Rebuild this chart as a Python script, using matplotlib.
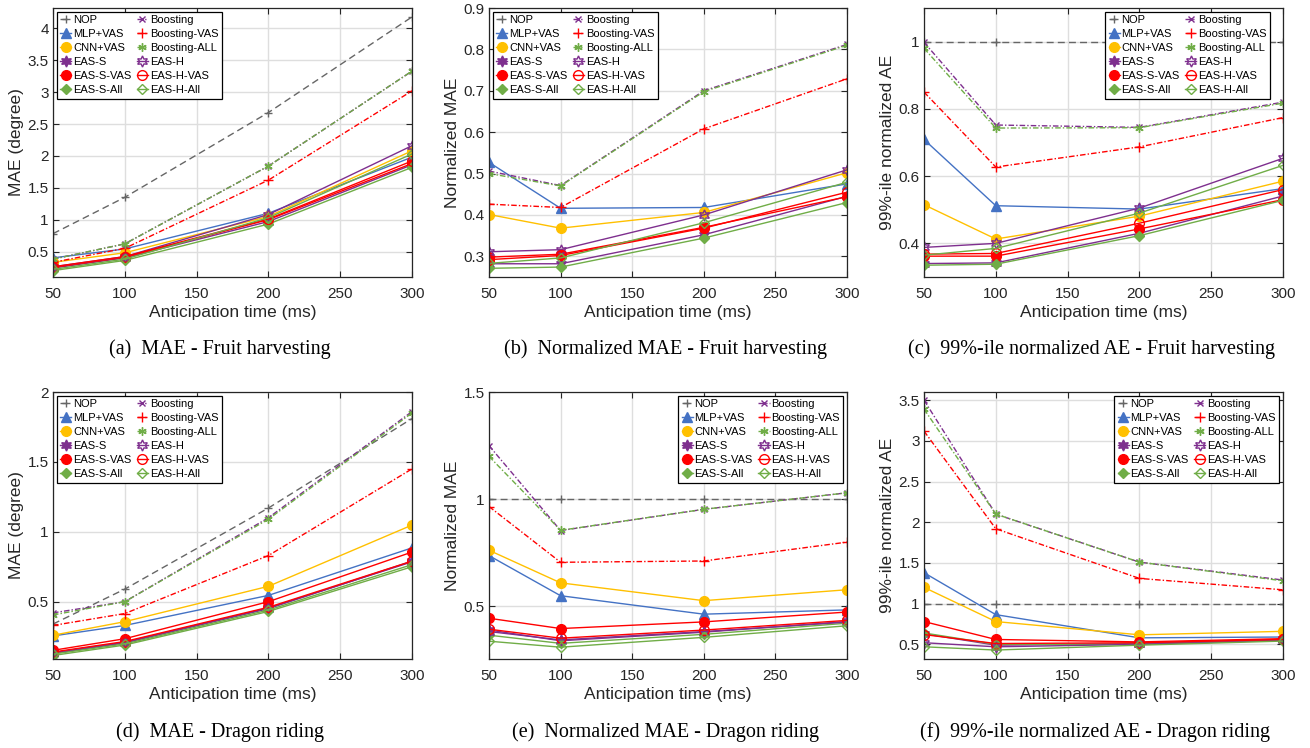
import matplotlib
matplotlib.use('Agg')
import matplotlib.pyplot as plt
from matplotlib.ticker import FuncFormatter

# anticipation times (ms)
tempos = [50, 100, 200, 300]

nomes = ['NOP', 'MLP+VAS', 'CNN+VAS', 'EAS-S', 'EAS-S-VAS', 'EAS-S-All',
         'Boosting', 'Boosting-VAS', 'Boosting-ALL', 'EAS-H', 'EAS-H-VAS', 'EAS-H-All']

# one row per method, same order as nomes
mae_fruit = [
    [0.78, 1.35, 2.68, 4.18],
    [0.40, 0.54, 1.10, 1.98],
    [0.33, 0.48, 1.05, 2.08],
    [0.24, 0.40, 0.97, 1.86],
    [0.25, 0.41, 1.00, 1.88],
    [0.20, 0.36, 0.93, 1.82],
    [0.38, 0.62, 1.84, 3.33],
    [0.33, 0.55, 1.62, 3.02],
    [0.38, 0.62, 1.84, 3.33],
    [0.26, 0.42, 1.08, 2.16],
    [0.26, 0.42, 1.01, 1.92],
    [0.22, 0.38, 1.03, 2.03],
]

nmae_fruit = [
    [1, 1, 1, 1],
    [0.527, 0.416, 0.418, 0.475],
    [0.401, 0.368, 0.406, 0.502],
    [0.282, 0.282, 0.352, 0.445],
    [0.298, 0.305, 0.370, 0.444],
    [0.271, 0.274, 0.344, 0.430],
    [0.506, 0.471, 0.700, 0.812],
    [0.426, 0.418, 0.608, 0.729],
    [0.500, 0.470, 0.698, 0.810],
    [0.311, 0.316, 0.400, 0.509],
    [0.292, 0.302, 0.368, 0.455],
    [0.283, 0.296, 0.381, 0.479],
]

ae99_fruit = [
    [1, 1, 1, 1],
    [0.709, 0.512, 0.502, 0.563],
    [0.515, 0.413, 0.481, 0.585],
    [0.340, 0.342, 0.430, 0.541],
    [0.362, 0.362, 0.443, 0.530],
    [0.335, 0.338, 0.423, 0.528],
    [0.998, 0.752, 0.745, 0.820],
    [0.850, 0.627, 0.687, 0.774],
    [0.980, 0.743, 0.744, 0.817],
    [0.388, 0.400, 0.505, 0.653],
    [0.368, 0.370, 0.460, 0.560],
    [0.365, 0.385, 0.490, 0.632],
]

mae_dragon = [
    [0.34, 0.59, 1.17, 1.81],
    [0.255, 0.33, 0.545, 0.885],
    [0.26, 0.357, 0.61, 1.048],
    [0.13, 0.205, 0.45, 0.79],
    [0.152, 0.235, 0.50, 0.855],
    [0.115, 0.19, 0.43, 0.75],
    [0.42, 0.50, 1.10, 1.86],
    [0.33, 0.415, 0.83, 1.45],
    [0.405, 0.50, 1.09, 1.85],
    [0.135, 0.21, 0.455, 0.785],
    [0.14, 0.215, 0.46, 0.79],
    [0.125, 0.198, 0.44, 0.765],
]

nmae_dragon = [
    [1, 1, 1, 1],
    [0.737, 0.55, 0.464, 0.484],
    [0.762, 0.61, 0.527, 0.578],
    [0.39, 0.34, 0.38, 0.43],
    [0.445, 0.397, 0.428, 0.474],
    [0.366, 0.328, 0.37, 0.422],
    [1.25, 0.854, 0.953, 1.03],
    [0.966, 0.706, 0.712, 0.80],
    [1.20, 0.855, 0.953, 1.03],
    [0.383, 0.344, 0.383, 0.427],
    [0.394, 0.352, 0.39, 0.435],
    [0.338, 0.31, 0.356, 0.41],
]

ae99_dragon = [
    [1, 1, 1, 1],
    [1.38, 0.865, 0.58, 0.59],
    [1.20, 0.78, 0.617, 0.66],
    [0.63, 0.49, 0.51, 0.56],
    [0.78, 0.56, 0.53, 0.57],
    [0.64, 0.50, 0.50, 0.55],
    [3.50, 2.10, 1.51, 1.29],
    [3.12, 1.92, 1.31, 1.17],
    [3.39, 2.10, 1.51, 1.28],
    [0.52, 0.47, 0.50, 0.55],
    [0.62, 0.51, 0.52, 0.56],
    [0.47, 0.43, 0.49, 0.54],
]

# line styles per method
cinza, azul, amarelo, roxo, vermelho, verde = '#666666', '#4472c4', '#ffc000', '#7e2f8e', '#ff0000', '#70ad47'
hexagrama = (6, 1, 0)
asterisco = (6, 2, 0)
cores = [cinza, azul, amarelo, roxo, vermelho, verde, roxo, vermelho, verde, roxo, vermelho, verde]
marcas = ['+', '^', 'o', hexagrama, 'o', 'D', 'x', '+', asterisco, hexagrama, 'o', 'D']
tamanhos = [6, 7, 7, 8, 7, 5.5, 5, 7, 6, 8, 7, 5.5]
traco_ponto = (0, (4, 1.5, 1, 1.5))
linhas = [(0, (5, 3)), '-', '-', '-', '-', '-', traco_ponto, traco_ponto, traco_ponto, '-', '-', '-']
cheio = [True] * 9 + [False] * 3

# panel definitions: data, ylabel, ylim, yticks, caption, legend corner
paineis = [
    (mae_fruit, 'MAE (degree)', (0.1, 4.32), [0.5, 1, 1.5, 2, 2.5, 3, 3.5, 4],
     '(a)  MAE - Fruit harvesting', 'upper left'),
    (nmae_fruit, 'Normalized MAE', (0.25, 0.9), [0.3, 0.4, 0.5, 0.6, 0.7, 0.8, 0.9],
     '(b)  Normalized MAE - Fruit harvesting', 'upper left'),
    (ae99_fruit, '99%-ile normalized AE', (0.3, 1.1), [0.4, 0.6, 0.8, 1],
     '(c)  99%-ile normalized AE - Fruit harvesting', 'upper right c'),
    (mae_dragon, 'MAE (degree)', (0.09, 2.0), [0.5, 1, 1.5, 2],
     '(d)  MAE - Dragon riding', 'upper left'),
    (nmae_dragon, 'Normalized MAE', (0.255, 1.5), [0.5, 1, 1.5],
     '(e)  Normalized MAE - Dragon riding', 'upper right'),
    (ae99_dragon, '99%-ile normalized AE', (0.32, 3.6), [0.5, 1, 1.5, 2, 2.5, 3, 3.5],
     '(f)  99%-ile normalized AE - Dragon riding', 'upper right'),
]

# axes boxes in pixels (left, top, right, bottom)
W, H = 1310, 748
caixas = [(53, 8, 412, 277), (489, 8, 847, 277), (924, 8, 1283, 277),
          (53, 392, 412, 659), (489, 392, 847, 659), (924, 392, 1283, 659)]
centros_legenda = [220, 665, 1091, 220, 665, 1095]

fig = plt.figure(figsize=(13.1, 7.48), dpi=100)
fonte = 'Liberation Sans'

for k, (dados, rotulo, lim, marcas_y, legenda, canto) in enumerate(paineis):
    l, t, r, b = caixas[k]
    ax = fig.add_axes([l / W, 1 - b / H, (r - l) / W, (b - t) / H])
    for i, nome in enumerate(nomes):
        ax.plot(tempos, dados[i], color=cores[i], linestyle=linhas[i], linewidth=1.0,
                marker=marcas[i], markersize=tamanhos[i], markeredgewidth=1.0,
                markerfacecolor=cores[i] if cheio[i] else 'none',
                markeredgecolor=cores[i], label=nome)

    ax.set_xlim(50, 300)
    ax.set_ylim(*lim)
    ax.set_xticks([50, 100, 150, 200, 250, 300])
    ax.set_yticks(marcas_y)
    ax.yaxis.set_major_formatter(FuncFormatter(lambda v, p: '%g' % v))
    ax.grid(True, color='#dedede', linewidth=1.0)
    ax.set_axisbelow(True)
    ax.tick_params(direction='in', top=True, right=True, length=4, width=0.8,
                   color='#262626', labelsize=11, labelcolor='#262626')
    ax.tick_params(axis='x', pad=7)
    ax.tick_params(axis='y', pad=3)
    for s in ax.spines.values():
        s.set_color('#262626')
        s.set_linewidth(0.9)
    for lab in ax.get_xticklabels() + ax.get_yticklabels():
        lab.set_fontfamily(fonte)

    ax.set_xlabel('Anticipation time (ms)', fontsize=12.5, family=fonte, color='#262626', va='center')
    ax.xaxis.set_label_coords(0.5, -36 / (b - t))
    ax.set_ylabel(rotulo, fontsize=12.5, family=fonte, color='#262626', va='center')
    ax.yaxis.set_label_coords(-36 / (r - l), 0.5)

    opts = dict(ncol=2, handlelength=1.0, handletextpad=0.15, columnspacing=0.5,
                labelspacing=0.36, borderpad=0.3, fancybox=False, framealpha=1,
                edgecolor='black', prop={'family': fonte, 'size': 8})
    if canto == 'upper left':
        leg = ax.legend(loc='upper left', bbox_to_anchor=(4 / (r - l), 1 - 4 / (b - t)),
                        borderaxespad=0, **opts)
    elif canto == 'upper right c':
        leg = ax.legend(loc='upper right', bbox_to_anchor=(1 - 13 / (r - l), 1 - 4 / (b - t)),
                        borderaxespad=0, **opts)
    else:
        leg = ax.legend(loc='upper right', bbox_to_anchor=(1 - 4 / (r - l), 1 - 4 / (b - t)),
                        borderaxespad=0, **opts)
    leg.get_frame().set_linewidth(0.9)

    yc = 349 if k < 3 else 732
    fig.text(centros_legenda[k] / W, 1 - yc / H, legenda, ha='center', va='center',
             fontsize=14.5, family='Liberation Serif')

fig.savefig('out.png', dpi=100)
